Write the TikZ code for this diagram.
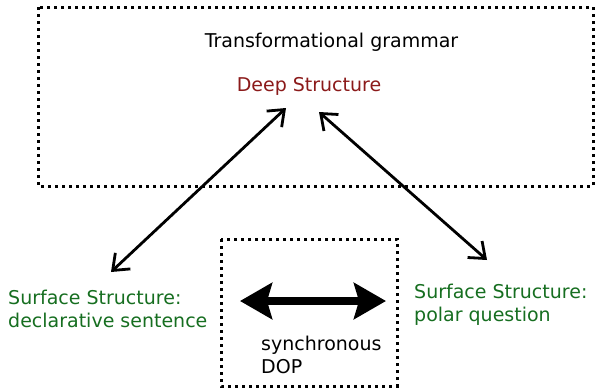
\documentclass[tikz,border=0pt]{standalone}
\usepackage{fontspec}
\setmainfont{DejaVu Sans}
\usetikzlibrary{arrows.meta,positioning}
\definecolor{deepred}{RGB}{139,26,26}
\definecolor{surfgreen}{RGB}{22,110,32}

\begin{document}
\begin{tikzpicture}
    [x=1pt,y=-1pt,
      every node/.style={inner sep=0pt,font=\fontsize{19}{23}\selectfont},
      dotbox/.style={line width=3pt,dash pattern=on 3pt off 4pt},
      link/.style={line width=2.8pt,{Straight Barb[length=14pt,width=22pt]}-{Straight Barb[length=14pt,width=22pt]}},
      bigarrow/.style={line width=8pt,{Stealth[length=32pt,width=36pt,inset=5pt]}-{Stealth[length=32pt,width=36pt,inset=5pt]}}
    ]
    \useasboundingbox (0,0) rectangle (596,388);
    % outer box
    \draw [dotbox] (38,7) rectangle (593,186);
    \node [anchor=base] (tg) at (331.5,47) {Transformational grammar};
    \node [anchor=base,text=deepred] (deep) at (309,91) {Deep Structure};
    % surface structures
    \node [anchor=north west,align=left,text=surfgreen] (decl) at (8,289.6)
      {Surface Structure:\\declarative sentence};
    \node [anchor=north west,align=left,text=surfgreen] (polar) at (414,283.6)
      {Surface Structure:\\polar question};
    % links
    \coordinate (deepL) at (286,108);
    \coordinate (deepR) at (319,112);
    \coordinate (declT) at (111,272);
    \coordinate (polarT) at (487,260);
    \draw [link] (deepL) -- (declT);
    \draw [link] (deepR) -- (polarT);
    % dop box
    \draw [dotbox] (221,239) rectangle (397,386);
    \coordinate (dopL) at (240,301);
    \coordinate (dopR) at (386,301);
    \draw [bigarrow] (dopL) -- (dopR);
    \node [anchor=north west,align=left] (dop) at (261,335.6) {synchronous\\DOP};
  \end{tikzpicture}
\end{document}
